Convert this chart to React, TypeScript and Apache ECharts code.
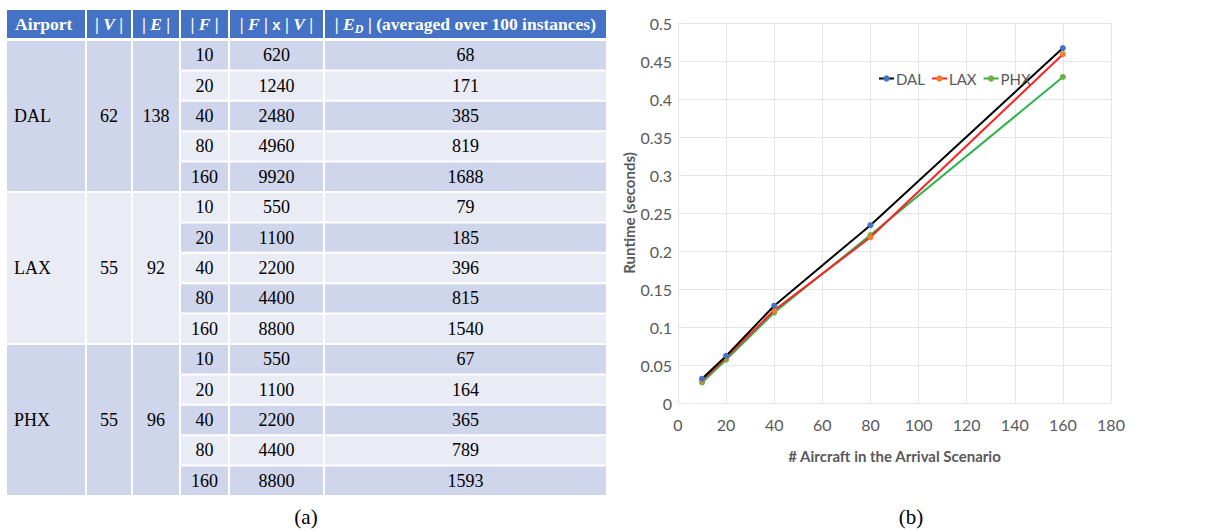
import React, { useEffect, useRef } from "react";
import * as echarts from "echarts";

// ---------- Table data (a) ----------
const airports = ["DAL", "LAX", "PHX"];
const vertexCounts = [62, 55, 55];
const edgeCounts = [138, 92, 96];
const flightCounts = [10, 20, 40, 80, 160];
const fTimesV = [
  [620, 1240, 2480, 4960, 9920],
  [550, 1100, 2200, 4400, 8800],
  [550, 1100, 2200, 4400, 8800],
];
const edgesD = [
  [68, 171, 385, 819, 1688],
  [79, 185, 396, 815, 1540],
  [67, 164, 365, 789, 1593],
];
const headers = [
  "{b|Airport}",
  "{b|| }{bi|V}{b| |}",
  "{b|| }{bi|E}{b| |}",
  "{b|| }{bi|F}{b| |}",
  "{b|| }{bi|F}{b| | }{s|x}{b| | }{bi|V}{b| |}",
  "{b|| }{bi|E}{sub|D}{b| | (averaged over 100 instances)}",
];

// ---------- Chart data (b) ----------
const aircraft = [10, 20, 40, 80, 160];
const seriesNames = ["DAL", "LAX", "PHX"];
const runtimeDAL = [0.032, 0.062, 0.128, 0.234, 0.467];
const runtimeLAX = [0.03, 0.06, 0.122, 0.218, 0.459];
const runtimePHX = [0.027, 0.057, 0.119, 0.221, 0.429];
const lineColors = ["#000000", "#FF2020", "#2DB34A"];
const markerColors = ["#4472C4", "#ED7D31", "#70AD47"];

const DARK = "#CFD5EA";
const LIGHT = "#E9EBF5";
const HEAD = "#4472C4";

function buildTable() {
  const colEdges = [6, 86, 132, 180, 229, 324, 607];
  const headTop = 10;
  const headBottom = 38;
  const rowTop = 40;
  const rowH = 30.4;
  const gap = 1;
  const serif = "'Liberation Serif', 'Times New Roman', serif";
  const els: any[] = [];
  const richHead = {
    b: { fontFamily: serif, fontWeight: "bold", fontSize: 17.5, fill: "#fff" },
    bi: { fontFamily: serif, fontWeight: "bold", fontStyle: "italic", fontSize: 17.5, fill: "#fff" },
    s: { fontFamily: "'Liberation Sans', Arial, sans-serif", fontWeight: "bold", fontSize: 15, fill: "#fff" },
    sub: { fontFamily: serif, fontWeight: "bold", fontStyle: "italic", fontSize: 12, fill: "#fff", padding: [9, 0, 0, 0] },
  };
  headers.forEach((h, c) => {
    const x0 = colEdges[c];
    const x1 = colEdges[c + 1];
    els.push({
      type: "rect",
      shape: { x: x0 + gap, y: headTop, width: x1 - x0 - 2 * gap, height: headBottom - headTop },
      style: { fill: HEAD },
      silent: true,
    });
    els.push({
      type: "text",
      x: c === 0 ? x0 + 9 : (x0 + x1) / 2,
      y: (headTop + headBottom) / 2,
      style: {
        text: h,
        rich: richHead,
        align: c === 0 ? "left" : "center",
        verticalAlign: "middle",
      },
      silent: true,
    });
  });
  const cellText = (txt: string | number, x: number, y: number, align: string) => ({
    type: "text",
    x,
    y,
    style: {
      text: String(txt),
      fontFamily: serif,
      fontSize: 18,
      fill: "#000",
      align,
      verticalAlign: "middle",
    },
    silent: true,
  });
  airports.forEach((ap, g) => {
    const gTop = rowTop + g * 5 * rowH;
    const gH = 5 * rowH;
    const gFill = g % 2 === 0 ? DARK : LIGHT;
    const groupVals = [ap, vertexCounts[g], edgeCounts[g]];
    for (let c = 0; c < 3; c++) {
      const x0 = colEdges[c];
      const x1 = colEdges[c + 1];
      els.push({
        type: "rect",
        shape: { x: x0 + gap, y: gTop + gap, width: x1 - x0 - 2 * gap, height: gH - 2 * gap },
        style: { fill: gFill },
        silent: true,
      });
      els.push(cellText(groupVals[c], c === 0 ? x0 + 8 : (x0 + x1) / 2, gTop + gH / 2, c === 0 ? "left" : "center"));
    }
    flightCounts.forEach((f, r) => {
      const i = g * 5 + r;
      const y0 = rowTop + i * rowH;
      const fill = i % 2 === 0 ? DARK : LIGHT;
      const vals = [f, fTimesV[g][r], edgesD[g][r]];
      for (let k = 0; k < 3; k++) {
        const c = 3 + k;
        const x0 = colEdges[c];
        const x1 = colEdges[c + 1];
        els.push({
          type: "rect",
          shape: { x: x0 + gap, y: y0 + gap, width: x1 - x0 - 2 * gap, height: rowH - 2 * gap },
          style: { fill },
          silent: true,
        });
        els.push(cellText(vals[k], (x0 + x1) / 2, y0 + rowH / 2, "center"));
      }
    });
  });
  const capStyle = { fontFamily: serif, fontSize: 21, fill: "#000", align: "center", verticalAlign: "middle" };
  els.push({ type: "text", x: 306, y: 517, style: { ...capStyle, text: "(a)" }, silent: true });
  els.push({ type: "text", x: 911, y: 517, style: { ...capStyle, text: "(b)" }, silent: true });
  return els;
}

export default function App() {
  const ref = useRef<HTMLDivElement>(null);
  useEffect(() => {
    if (!ref.current) return;
    const chart = echarts.init(ref.current, undefined, { renderer: "svg" });
    const sans = "Lato, 'Open Sans', sans-serif";
    const runtimes = [runtimeDAL, runtimeLAX, runtimePHX];
    chart.setOption({
      animation: false,
      backgroundColor: "#fff",
      graphic: buildTable(),
      grid: { left: 678, right: 98, top: 23, bottom: 128 },
      legend: {
        left: 873,
        top: 66,
        itemWidth: 15,
        itemHeight: 8,
        itemGap: 6,
        textStyle: { color: "#595959", fontSize: 15, fontFamily: sans, padding: [0, 0, 0, -3] },
        data: seriesNames,
      },
      xAxis: {
        type: "value",
        min: 0,
        max: 180,
        interval: 20,
        name: "# Aircraft in the Arrival Scenario",
        nameLocation: "middle",
        nameGap: 45,
        nameTextStyle: { color: "#595959", fontSize: 15, fontWeight: "bold", fontFamily: sans },
        axisLine: { show: true, lineStyle: { color: "#E3E6EC" } },
        axisTick: { show: false },
        axisLabel: { color: "#595959", fontSize: 16, fontFamily: sans, margin: 13 },
        splitLine: { show: true, lineStyle: { color: "#E3E6EC" } },
      },
      yAxis: {
        type: "value",
        min: 0,
        max: 0.5,
        interval: 0.05,
        name: "Runtime (seconds)",
        nameLocation: "middle",
        nameRotate: 90,
        nameGap: 38,
        nameTextStyle: { color: "#595959", fontSize: 15, fontWeight: "bold", fontFamily: sans },
        axisLine: { show: true, lineStyle: { color: "#E3E6EC" } },
        axisTick: { show: false },
        axisLabel: { color: "#595959", fontSize: 16, fontFamily: sans, margin: 6 },
        splitLine: { show: true, lineStyle: { color: "#E3E6EC" } },
      },
      series: seriesNames.map((name, s) => ({
        name,
        type: "line",
        data: aircraft.map((x, j) => [x, runtimes[s][j]]),
        symbol: "circle",
        symbolSize: 6,
        showSymbol: true,
        lineStyle: { color: lineColors[s], width: 2 },
        itemStyle: { color: markerColors[s] },
        z: 3 - s,
      })),
    });
    return () => chart.dispose();
  }, []);
  return (
    <div
      ref={ref}
      style={{ position: "absolute", left: 0, top: 0, width: 1209, height: 531 }}
    />
  );
}
